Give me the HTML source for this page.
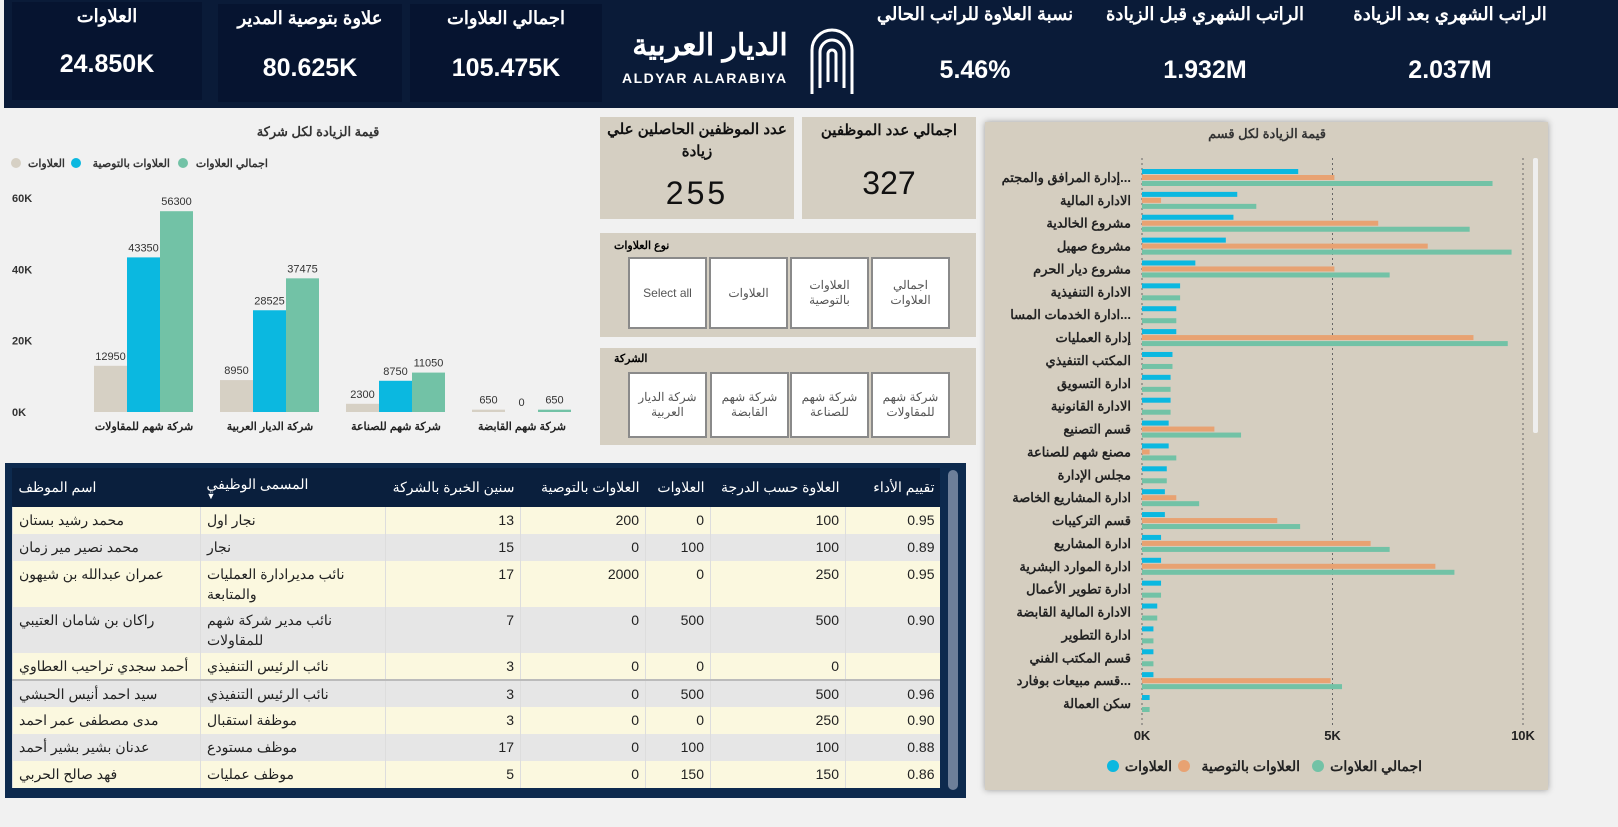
<!DOCTYPE html>
<html><head><meta charset="utf-8">
<style>
*{box-sizing:border-box;margin:0;padding:0}
body{width:1618px;height:827px;overflow:hidden;background:#f1f1f1;font-family:"Liberation Sans","Noto Sans CJK SC",sans-serif;position:relative}
.abs{position:absolute}
.kpi{position:absolute;color:#fff;text-align:center}
.kpi .t{font-size:18px;font-weight:bold;white-space:nowrap}
.kpi .v{font-size:25px;font-weight:bold;position:absolute;left:0;right:0}
.card{position:absolute;background:#d5cfc2;text-align:center;color:#111}
.slpanel{position:absolute;background:#d5cfc2}
.btn{position:absolute;background:#fff;border:2px solid #8a8a8a;font-size:12px;color:#555;display:flex;align-items:center;justify-content:center;text-align:center;line-height:15px}
table{border-collapse:collapse;font-size:14px;color:#222;table-layout:fixed}
td{border-left:1px solid #ddd;padding:0 6px;vertical-align:top}
</style></head><body>
<div class="abs" style="left:4px;top:0;width:1614px;height:108px;background:#0a1b38"></div>
<div class="kpi" style="left:12px;top:2px;width:190px;height:98px;background:#061430"><div class="t" style="margin-top:4px">العلاوات</div><div class="v" style="top:48px">24.850K</div></div>
<div class="kpi" style="left:218px;top:4px;width:184px;height:98px;background:#061430"><div class="t" style="margin-top:4px">علاوة بتوصية المدير</div><div class="v" style="top:50px">80.625K</div></div>
<div class="kpi" style="left:410px;top:4px;width:192px;height:98px;background:#061430"><div class="t" style="margin-top:4px">اجمالي العلاوات</div><div class="v" style="top:50px">105.475K</div></div>
<div class="abs" style="left:620px;top:28px;width:240px;height:70px;color:#fff">
<div style="position:absolute;left:0;top:0;font-size:30px;font-weight:bold;width:180px;text-align:center">الديار العربية</div>
<div style="position:absolute;left:2px;top:42px;font-size:14px;font-weight:bold;letter-spacing:1.5px;white-space:nowrap">ALDYAR ALARABIYA</div>
<svg style="position:absolute;left:188px;top:-2px" width="48" height="70"><g fill="none" stroke="#fff" stroke-width="3"><path d="M4 68V24a20 20 0 0 1 40 0v44"/><path d="M12 62V26a12 12 0 0 1 24 0v36"/><path d="M20 56V28a4 4 0 0 1 8 0v28"/></g></svg>
</div>
<div class="kpi" style="left:875px;top:4px;width:200px;height:98px"><div class="t">نسبة العلاوة للراتب الحالي</div><div class="v" style="top:52px">5.46%</div></div>
<div class="kpi" style="left:1100px;top:4px;width:210px;height:98px"><div class="t">الراتب الشهري قبل الزيادة</div><div class="v" style="top:52px">1.932M</div></div>
<div class="kpi" style="left:1345px;top:4px;width:210px;height:98px"><div class="t">الراتب الشهري بعد الزيادة</div><div class="v" style="top:52px">2.037M</div></div>

<svg class="abs" style="left:0;top:110px" width="595" height="345" id="leftChart"></svg>

<div class="card" style="left:600px;top:117px;width:194px;height:102px"><div style="font-size:15px;font-weight:bold;line-height:22px;margin-top:2px">عدد الموظفين الحاصلين علي<br>زيادة</div><div style="font-size:32px;position:absolute;left:0;right:0;top:58px;letter-spacing:3px">255</div></div>
<div class="card" style="left:802px;top:117px;width:174px;height:102px"><div style="font-size:15px;font-weight:bold;margin-top:4px">اجمالي عدد الموظفين</div><div style="font-size:32px;position:absolute;left:0;right:0;top:48px">327</div></div>

<div class="slpanel" style="left:600px;top:233px;width:376px;height:104px">
<div style="position:absolute;left:14px;top:6px;font-size:11px;font-weight:bold">نوع العلاوات</div>
<div class="btn" style="left:28px;top:24px;width:79px;height:72px">Select all</div>
<div class="btn" style="left:109px;top:24px;width:79px;height:72px">العلاوات</div>
<div class="btn" style="left:190px;top:24px;width:79px;height:72px">العلاوات<br>بالتوصية</div>
<div class="btn" style="left:271px;top:24px;width:79px;height:72px">اجمالي<br>العلاوات</div>
</div>
<div class="slpanel" style="left:600px;top:348px;width:376px;height:97px">
<div style="position:absolute;left:14px;top:4px;font-size:11px;font-weight:bold">الشركة</div>
<div class="btn" style="left:28px;top:24px;width:79px;height:66px">شركة الديار<br>العربية</div>
<div class="btn" style="left:110px;top:24px;width:79px;height:66px">شركة شهم<br>القابضة</div>
<div class="btn" style="left:190px;top:24px;width:79px;height:66px">شركة شهم<br>للصناعة</div>
<div class="btn" style="left:271px;top:24px;width:79px;height:66px">شركة شهم<br>للمقاولات</div>
</div>

<div class="abs" style="left:5px;top:463px;width:961px;height:335px;background:#0d2a4e"></div>
<div class="abs" style="left:12px;top:468px;width:928px;height:38px;background:#0a1f3d"></div>
<div class="abs" style="left:948px;top:470px;width:10px;height:320px;background:#6d7f99;border-radius:5px"></div>
<div class="abs" style="left:12px;top:468px;width:928px;height:325px;overflow:hidden">
<table style="width:928px">
<colgroup><col style="width:188px"><col style="width:185px"><col style="width:135px"><col style="width:125px"><col style="width:65px"><col style="width:135px"><col style="width:95px"></colgroup>
<tr style="background:#0a1f3d;color:#fff;height:39px;font-size:14px">
<td style="border:none;vertical-align:middle" dir="rtl" align="left">اسم الموظف</td>
<td style="border:none;vertical-align:middle;text-align:left" dir="rtl">المسمى الوظيفي<div style="font-size:9px;line-height:6px">▼</div></td>
<td style="border:none;vertical-align:middle;text-align:right;white-space:nowrap">سنين الخبرة بالشركة</td>
<td style="border:none;vertical-align:middle;text-align:right;white-space:nowrap">العلاوات بالتوصية</td>
<td style="border:none;vertical-align:middle;text-align:right">العلاوات</td>
<td style="border:none;vertical-align:middle;text-align:right;white-space:nowrap">العلاوة حسب الدرجة</td>
<td style="border:none;vertical-align:middle;text-align:right">تقييم الأداء</td>
</tr>
<tbody id="tb"></tbody></table></div>
<div class="abs" style="left:1050px;top:700px;font-size:60px;font-weight:bold;color:rgba(120,120,120,0.15)">مستقل</div>

<div class="abs" style="left:985px;top:122px;width:563px;height:668px;background:#d5cec0;box-shadow:0 0 6px #999"></div>
<svg class="abs" style="left:985px;top:122px" width="563" height="668" id="rightChart"></svg>

<script>
const NS="http://www.w3.org/2000/svg";
function mk(p,t,a,txt){const e=document.createElementNS(NS,t);for(const k in a)e.setAttribute(k,a[k]);if(txt!==undefined)e.textContent=txt;p.appendChild(e);return e;}
// LEFT CHART DATA
const companies=["شركة شهم للمقاولات","شركة الديار العربية","شركة شهم للصناعة","شركة شهم القابضة"];
const allowanceVals=[12950,8950,2300,650];
const recommendedVals=[43350,28525,8750,0];
const totalVals=[56300,37475,11050,650];
const leftTicks=[0,20000,40000,60000];
const leftTickLabels=["0K","20K","40K","60K"];
(function(){
const s=document.getElementById('leftChart');
const y0=302, pxPer=(302-88)/60000;
const ys=v=>y0-v*pxPer;
mk(s,'text',{x:318,y:26,'text-anchor':'middle','font-size':13,'font-weight':'bold',fill:'#333'},"قيمة الزيادة لكل شركة");
const leg=[["اجمالي العلاوات","#72c2a6",183,268],["العلاوات بالتوصية","#0bb8e0",76,170],["العلاوات","#d6d0c4",16,65]];
leg.forEach(l=>{const c=mk(s,'circle',{cx:l[2],cy:53,r:5,fill:l[1]});
mk(s,'text',{x:l[3],y:57,'text-anchor':'end','font-size':11,'font-weight':'bold',fill:'#333'},l[0]);});
leftTicks.forEach((t,i)=>{mk(s,'text',{x:12,y:ys(t)+4,'font-size':11,'font-weight':'bold',fill:'#333'},leftTickLabels[i]);});
const series=[[allowanceVals,"#d6d0c4"],[recommendedVals,"#0bb8e0"],[totalVals,"#72c2a6"]];
const gw=126, x0=82, bw=33;
companies.forEach((c,i)=>{
 const gx=x0+i*gw;
 series.forEach((sr,j)=>{
  const v=sr[0][i];const bx=gx+12+j*bw;
  const r=mk(s,'rect',{x:bx,y:ys(v),width:bw,height:Math.max(v*pxPer,v>0?1:0),fill:sr[1]});
  
  mk(s,'text',{x:bx+bw/2,y:ys(v)-6,'text-anchor':'middle','font-size':11,fill:'#333'},String(v));
 });
 mk(s,'text',{x:gx+62,y:320,'text-anchor':'middle','font-size':11,'font-weight':'bold',fill:'#222'},c);
});
})();
// RIGHT CHART DATA
const depts=["إدارة المرافق والمجتم...","الادارة المالية","مشروع الخالدية","مشروع صهيل","مشروع ديار الحرم","الادارة التنفيذية","ادارة الخدمات المسا...","إدارة العمليات","المكتب التنفيذي","ادارة التسويق","الادارة القانونية","قسم التصنيع","مصنع شهم للصناعة","مجلس الإدارة","ادارة المشاريع الخاصة","قسم التركيبات","ادارة المشاريع","ادارة الموارد البشرية","ادارة تطوير الأعمال","الادارة المالية القابضة","ادارة التطوير","قسم المكتب الفني","قسم مبيعات بوفارد...","سكن العمالة"];
const deptAllow=[4100,2500,2400,2200,1400,1000,900,900,800,750,750,700,700,650,600,600,500,500,500,400,300,300,300,200];
const deptRec=[5050,500,6200,7500,5050,0,0,8700,0,0,0,1900,200,0,900,3550,6000,7700,0,0,0,0,4950,0];
const deptTotal=[9200,3000,8600,9700,6500,1000,900,9600,800,750,750,2600,900,650,1500,4150,6500,8200,500,400,300,300,5250,200];
const rightTicks=[0,5000,10000];
const rightTickLabels=["0K","5K","10K"];
(function(){
const s=document.getElementById('rightChart');
const xs=v=>157+v*0.0381;
mk(s,'text',{x:282,y:16,'text-anchor':'middle','font-size':13,'font-weight':'bold',fill:'#333'},"قيمة الزيادة لكل قسم");
rightTicks.forEach((t,i)=>{mk(s,'line',{x1:xs(t),x2:xs(t),y1:36,y2:605,stroke:'#666','stroke-dasharray':'2,3'});
mk(s,'text',{x:xs(t),y:618,'text-anchor':'middle','font-size':13,'font-weight':'bold',fill:'#222'},rightTickLabels[i]);});
mk(s,'rect',{x:548,y:36,width:5,height:275,fill:'#eee',rx:2});
const step=22.87;
depts.forEach((d,i)=>{
 const cy=55+i*step;
 mk(s,'text',{x:146,y:cy+5,'text-anchor':'end','font-size':13,'font-weight':'bold',fill:'#222'},d);
 [[deptAllow,"#0bb8e0",-8],[deptRec,"#e8a272",-2],[deptTotal,"#72c2a6",4]].forEach((sr,j)=>{
  const v=sr[0][i];if(v<=0)return;
  const r=mk(s,'rect',{x:xs(0),y:cy+sr[2],width:xs(v)-xs(0),height:5,fill:sr[1]});
  
 });
});
const leg=[["العلاوات","#0bb8e0",128,187],["العلاوات بالتوصية","#e8a272",199,315],["اجمالي العلاوات","#72c2a6",333,437]];
leg.forEach(l=>{mk(s,'circle',{cx:l[2],cy:644,r:6,fill:l[1]});
mk(s,'text',{x:l[3],y:649,'text-anchor':'end','font-size':14,'font-weight':'bold',fill:'#222'},l[0]);});
})();
// TABLE
const names=["محمد رشيد بستان","محمد نصير مير زمان","عمران عبدالله بن شيهون","راكان بن شامان العتيبي","أحمد سجدي تراحيب العطاوي","سيد احمد أنيس الحبشي","مدى مصطفى عمر احمد","عدنان بشير بشير أحمد","فهد صالح الحربي"];
const titles=["نجار اول","نجار","نائب مديرادارة العمليات والمتابعة","نائب مدير شركة شهم للمقاولات","نائب الرئيس التنفيذي","نائب الرئيس التنفيذي","موظفة استقبال","موظف مستودع","موظف عمليات"];
const years=[13,15,17,7,3,3,3,17,5];
const recs=[200,0,2000,0,0,0,0,0,0];
const allows=[0,100,0,500,0,500,0,100,150];
const grades=[100,100,250,500,0,500,250,100,150];
const perf=["0.95","0.89","0.95","0.90","","0.96","0.90","0.88","0.86"];
const heights=[27,27,46,46,27,27,27,27,27];
const tb=document.getElementById('tb');
names.forEach((n,i)=>{
 const tr=document.createElement('tr');
 
 
 tr.style.background=i%2?'#e6e6e6':'#fbf8df';tr.style.height=heights[i]+'px';
 if(i==5)tr.style.borderTop='2px solid #bbb';
 [n,titles[i],years[i],recs[i],allows[i],grades[i],perf[i]].forEach((v,k)=>{
  const td=document.createElement('td');td.textContent=v;td.style.lineHeight='20px';td.style.paddingTop='3px';
  if(k<2){td.setAttribute('dir','rtl');td.style.textAlign='left';}else td.style.textAlign='right';
  tr.appendChild(td);});
 tb.appendChild(tr);
});
</script>
</body></html>
